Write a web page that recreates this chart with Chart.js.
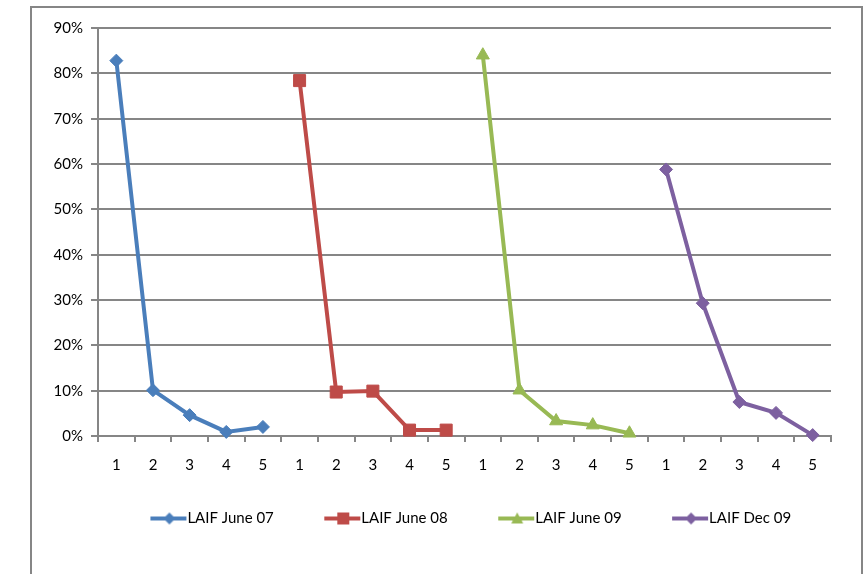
<!DOCTYPE html>
<html>
<head>
<meta charset="utf-8">
<script src="https://cdn.jsdelivr.net/npm/chart.js@4"></script>
<style>
  html, body { margin: 0; padding: 0; background: #fff; }
  #wrap { width: 863px; height: 574px; position: relative; }
</style>
</head>
<body>
<div id="wrap"><canvas id="chart" width="863" height="574"></canvas></div>
<script>
// categories: 1..5 repeated once per survey
const labels = ["1","2","3","4","5","1","2","3","4","5","1","2","3","4","5","1","2","3","4","5"];

// values in percent
const june07 = [82.8, 10.1, 4.6, 0.9, 2.0, null, null, null, null, null, null, null, null, null, null, null, null, null, null, null];
const june08 = [null, null, null, null, null, 78.4, 9.7, 9.9, 1.3, 1.3, null, null, null, null, null, null, null, null, null, null];
const june09 = [null, null, null, null, null, null, null, null, null, null, 84.0, 10.1, 3.3, 2.4, 0.6, null, null, null, null, null];
const dec09 = [null, null, null, null, null, null, null, null, null, null, null, null, null, null, null, 58.8, 29.3, 7.5, 5.1, 0.2];

const yTicks = [0, 10, 20, 30, 40, 50, 60, 70, 80, 90];

const seriesNames = ["LAIF June 07", "LAIF June 08", "LAIF June 09", "LAIF Dec 09"];
const seriesColors = ["#4a7ebb", "#be4b48", "#98b954", "#7d60a0"];
const seriesStyles = ["rectRot", "rect", "triangle", "rectRot"];
const seriesRadius = [6.5, 8.5, 7.5, 6.5];

const gridColor = "#868686";
const fontFamily = "Lato, 'Liberation Sans', sans-serif";
const fontSize = 15;
const legendBox = 70;

// legend icon = short line with the marker in the middle, like Excel.
// The image is centred in the legend box, so its right edge reaches the text.
function legendIcon(color, style) {
  const c = document.createElement("canvas");
  const w = legendBox + fontSize;
  c.width = w; c.height = 14;
  const g = c.getContext("2d");
  const mid = w - 18;
  g.strokeStyle = color;
  g.fillStyle = color;
  g.lineWidth = 4;
  g.beginPath(); g.moveTo(w - 37, 7); g.lineTo(w - 1, 7); g.stroke();
  g.beginPath();
  if (style === "rect") {
    g.rect(mid - 6, 1, 12, 12);
  } else if (style === "triangle") {
    g.moveTo(mid, 1); g.lineTo(mid + 6, 12); g.lineTo(mid - 6, 12); g.closePath();
  } else {
    g.moveTo(mid, 1); g.lineTo(mid + 6, 7); g.lineTo(mid, 13); g.lineTo(mid - 6, 7); g.closePath();
  }
  g.fill();
  return c;
}

const allData = [june07, june08, june09, dec09];
const datasets = allData.map((d, i) => ({
  label: seriesNames[i],
  data: d,
  borderColor: seriesColors[i],
  backgroundColor: seriesColors[i],
  pointBackgroundColor: seriesColors[i],
  pointBorderColor: seriesColors[i],
  pointStyle: seriesStyles[i],
  pointRadius: seriesRadius[i],
  pointBorderWidth: 1,
  borderWidth: 4,
  tension: 0,
  spanGaps: false,
  clip: false
}));

const frame = {
  id: "frame",
  beforeDraw(chart) {
    const ctx = chart.ctx;
    ctx.save();
    ctx.strokeStyle = gridColor;
    ctx.lineWidth = 2;
    ctx.strokeRect(31, 7, 831, 700);
    ctx.restore();
  },
  afterLayout(chart) {
    // nudge legend to where Excel put it
    chart.legend.left += 15;
    chart.legend.right += 15;
  }
};

new Chart(document.getElementById("chart"), {
  type: "line",
  data: { labels, datasets },
  plugins: [frame],
  options: {
    responsive: false,
    animation: false,
    layout: { padding: { left: 40, right: 32, top: 28, bottom: 38 } },
    plugins: {
      tooltip: { enabled: false },
      legend: {
        position: "bottom",
        labels: {
          usePointStyle: true,
          pointStyleWidth: legendBox,
          padding: 10,
          color: "#000",
          font: { family: fontFamily, size: fontSize },
          generateLabels: (chart) => chart.data.datasets.map((ds, i) => ({
            text: ds.label,
            pointStyle: legendIcon(seriesColors[i], seriesStyles[i]),
            fillStyle: seriesColors[i],
            strokeStyle: seriesColors[i],
            lineWidth: 0,
            fontColor: "#000",
            datasetIndex: i
          }))
        }
      }
    },
    scales: {
      x: {
        offset: true,
        grid: { offset: true, drawOnChartArea: false, color: gridColor, lineWidth: 2, tickLength: 6 },
        border: { color: gridColor, width: 2 },
        ticks: { color: "#000", padding: 14, maxRotation: 0, autoSkip: false, font: { family: fontFamily, size: fontSize } },
        afterFit: (s) => { s.height = 65; }
      },
      y: {
        min: 0,
        max: 90,
        afterBuildTicks: (s) => { s.ticks = yTicks.map(v => ({ value: v })); },
        grid: { color: gridColor, lineWidth: 2, tickLength: 7 },
        border: { color: gridColor, width: 2 },
        ticks: { color: "#000", padding: 8, callback: (v) => v + "%", font: { family: fontFamily, size: fontSize } },
        afterFit: (s) => { s.width = 58; }
      }
    }
  }
});
</script>
</body>
</html>
